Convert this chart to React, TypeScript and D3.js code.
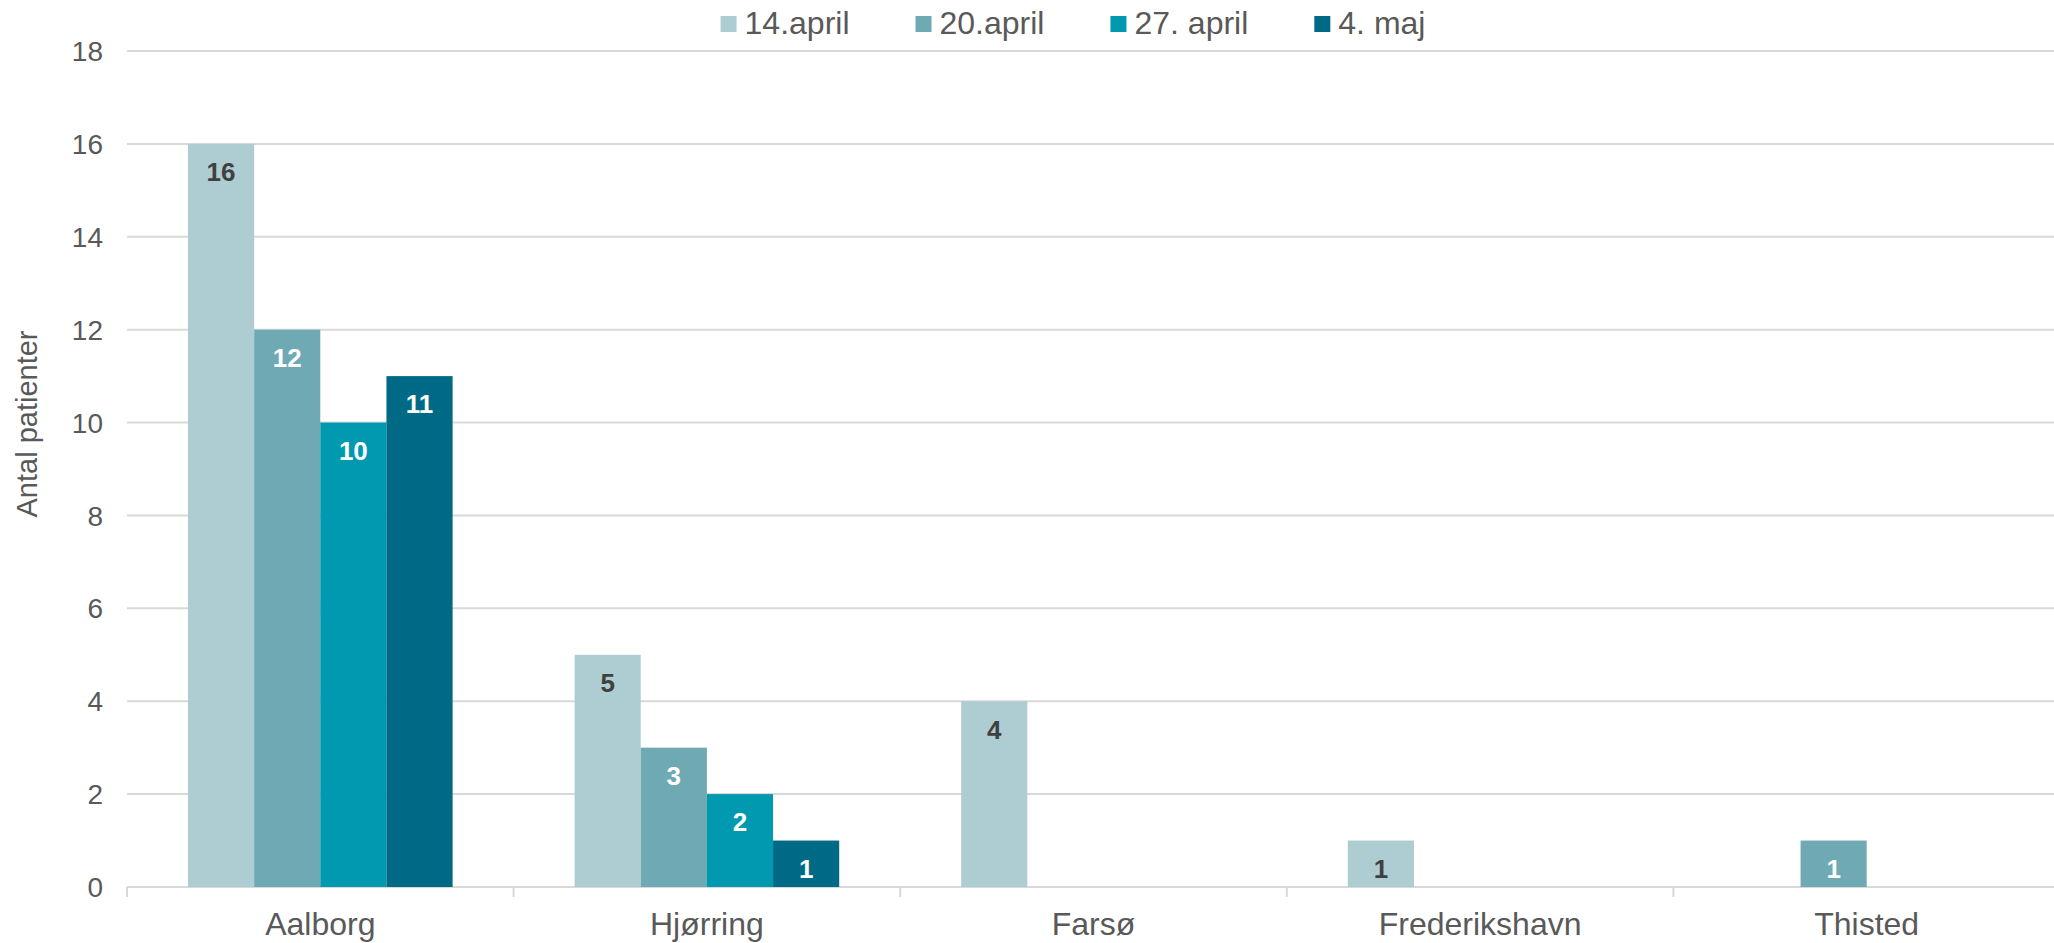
import { useEffect, useRef } from "react";
import * as d3 from "d3";

const categories = ["Aalborg", "Hjørring", "Farsø", "Frederikshavn", "Thisted"];
const seriesNames = ["14.april", "20.april", "27. april", "4. maj"];
const april14 = [16, 5, 4, 1, 0];
const april20 = [12, 3, 0, 0, 1];
const april27 = [10, 2, 0, 0, 0];
const maj4 = [11, 1, 0, 0, 0];
const yTicks = [0, 2, 4, 6, 8, 10, 12, 14, 16, 18];

const colors = ["#aecdd3", "#6faab4", "#0099b0", "#006a86"];
const labelColors = ["#404040", "#ffffff", "#ffffff", "#ffffff"];

const FONT = "'Liberation Sans', Arial, sans-serif";

export default function App() {
  const svgRef = useRef<SVGSVGElement>(null);

  useEffect(() => {
    if (!svgRef.current) return;
    const svg = d3.select(svgRef.current);
    svg.selectAll("*").remove();

    const width = 2054;
    const left = 127;
    const right = 2060;
    const top = 51;
    const bottom = 887;

    const values = [april14, april20, april27, maj4];

    const x = d3.scaleBand<string>().domain(categories).range([left, right]);
    const bw = x.bandwidth();
    const inner = d3
      .scaleBand<string>()
      .domain(seriesNames)
      .range([61, bw - 61]);
    const y = d3.scaleLinear().domain([0, 18]).range([bottom, top]);

    // gridlines
    svg
      .append("g")
      .selectAll("line")
      .data(yTicks)
      .enter()
      .append("line")
      .attr("x1", left)
      .attr("x2", width)
      .attr("y1", (d) => y(d))
      .attr("y2", (d) => y(d))
      .attr("stroke", "#d9d9d9")
      .attr("stroke-width", 2);

    // y tick labels
    svg
      .append("g")
      .selectAll("text")
      .data(yTicks)
      .enter()
      .append("text")
      .attr("x", 103)
      .attr("y", (d) => y(d))
      .attr("dy", "0.36em")
      .attr("text-anchor", "end")
      .attr("font-family", FONT)
      .attr("font-size", 28)
      .attr("fill", "#595959")
      .text((d) => d);

    // x ticks at category boundaries
    const bounds = categories.map((c) => x(c) as number).concat([right]);
    svg
      .append("g")
      .selectAll("line")
      .data(bounds)
      .enter()
      .append("line")
      .attr("x1", (d) => d)
      .attr("x2", (d) => d)
      .attr("y1", bottom)
      .attr("y2", bottom + 10)
      .attr("stroke", "#d9d9d9")
      .attr("stroke-width", 2);

    // bars
    values.forEach((vals, si) => {
      const g = svg.append("g");
      const data = vals
        .map((v, i) => ({ v, c: categories[i] }))
        .filter((d) => d.v > 0);
      g.selectAll("rect")
        .data(data)
        .enter()
        .append("rect")
        .attr("x", (d) => (x(d.c) as number) + (inner(seriesNames[si]) as number))
        .attr("y", (d) => y(d.v))
        .attr("width", inner.bandwidth())
        .attr("height", (d) => y(0) - y(d.v))
        .attr("fill", colors[si]);
      g.selectAll("text")
        .data(data)
        .enter()
        .append("text")
        .attr(
          "x",
          (d) =>
            (x(d.c) as number) +
            (inner(seriesNames[si]) as number) +
            inner.bandwidth() / 2
        )
        .attr("y", (d) => y(d.v) + 28)
        .attr("dy", "0.36em")
        .attr("text-anchor", "middle")
        .attr("font-family", FONT)
        .attr("font-size", 26)
        .attr("font-weight", "bold")
        .attr("fill", labelColors[si])
        .text((d) => d.v);
    });

    // category labels
    svg
      .append("g")
      .selectAll("text")
      .data(categories)
      .enter()
      .append("text")
      .attr("x", (d) => (x(d) as number) + bw / 2)
      .attr("y", 935)
      .attr("text-anchor", "middle")
      .attr("font-family", FONT)
      .attr("font-size", 32)
      .attr("fill", "#595959")
      .text((d) => d);

    // axis title
    svg
      .append("text")
      .attr("transform", "translate(37,424) rotate(-90)")
      .attr("text-anchor", "middle")
      .attr("font-family", FONT)
      .attr("font-size", 29)
      .attr("fill", "#595959")
      .text("Antal patienter");

    // legend, measured and centred
    const legend = svg.append("g");
    const items = seriesNames.map((name, i) => {
      const it = legend.append("g");
      it.append("rect")
        .attr("width", 16)
        .attr("height", 16)
        .attr("y", 16)
        .attr("fill", colors[i]);
      const t = it
        .append("text")
        .attr("x", 24)
        .attr("y", 34)
        .attr("font-family", FONT)
        .attr("font-size", 32)
        .attr("fill", "#595959")
        .text(name);
      const w = (t.node() as SVGTextElement).getComputedTextLength();
      return { it, w: 24 + w };
    });
    const gap = 66;
    const total = d3.sum(items, (d) => d.w) + gap * (items.length - 1);
    let cx = 1073 - total / 2;
    items.forEach((d) => {
      d.it.attr("transform", `translate(${cx},0)`);
      cx += d.w + gap;
    });
  }, []);

  return (
    <svg
      ref={svgRef}
      width={2054}
      height={943}
      style={{ position: "absolute", left: 0, top: 0, background: "#fff" }}
    ></svg>
  );
}
